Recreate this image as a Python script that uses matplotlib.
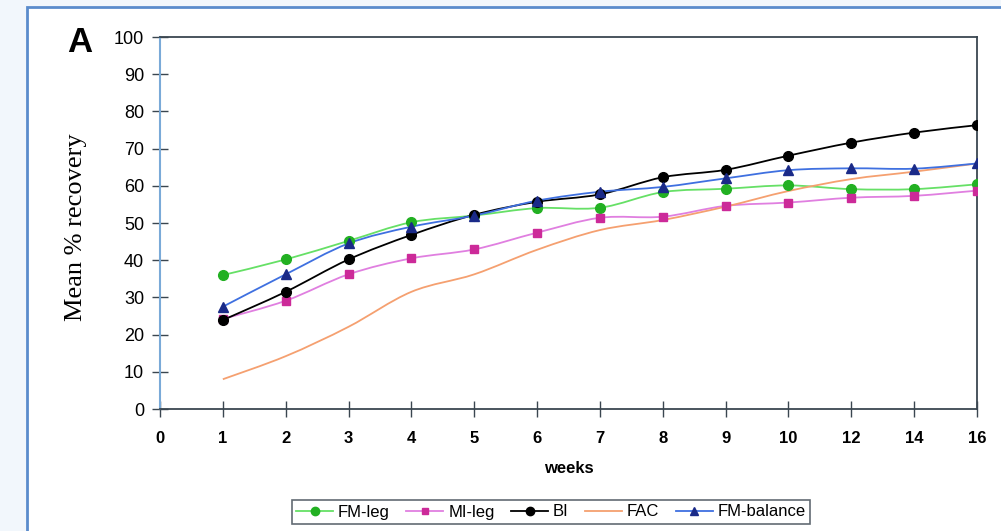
import numpy as np
import matplotlib
matplotlib.use("Agg")
import matplotlib.pyplot as plt
from matplotlib.path import Path
from matplotlib.patches import PathPatch, Rectangle
from matplotlib.lines import Line2D

# x axis is categorical (weeks, unevenly spaced labels)
week_labels = ["0", "1", "2", "3", "4", "5", "6", "7", "8", "9", "10", "12", "14", "16"]
fm_leg = [36.0, 40.2, 45.2, 50.2, 52.0, 54.0, 54.1, 58.3, 59.2, 60.1, 59.1, 59.1, 60.4]
mi_leg = [24.2, 29.1, 36.2, 40.5, 42.9, 47.4, 51.4, 51.7, 54.6, 55.5, 56.8, 57.3, 58.7]
bi = [23.9, 31.5, 40.2, 46.8, 52.2, 55.7, 57.7, 62.3, 64.3, 68.1, 71.6, 74.3, 76.3]
fac = [8.0, 14.2, 22.1, 31.5, 36.2, 42.8, 48.1, 50.8, 54.4, 58.6, 61.8, 63.8, 66.0]
fm_balance = [27.5, 36.2, 44.5, 49.0, 52.0, 56.0, 58.4, 59.7, 62.0, 64.2, 64.7, 64.6, 66.0]


def smooth_path(x, y):
    # excel-style smoothed line (bezier through the points)
    pts = np.column_stack([x, y]).astype(float)
    n = len(pts)
    verts = [pts[0]]
    codes = [Path.MOVETO]
    for i in range(n - 1):
        p0 = pts[max(i - 1, 0)]
        p1 = pts[i]
        p2 = pts[i + 1]
        p3 = pts[min(i + 2, n - 1)]
        verts += [p1 + (p2 - p0) / 6, p2 - (p3 - p1) / 6, p2]
        codes += [Path.CURVE4] * 3
    return Path(verts, codes)


fig = plt.figure(figsize=(10.01, 5.31), dpi=100, facecolor="#f2f7fc")
# white panel with blue frame, behind everything
fig.patches.append(Rectangle((27 / 1001, -0.02), 1.0, 1 - 7 / 531 + 0.02,
                             transform=fig.transFigure, facecolor="white",
                             edgecolor="#5b8ccc", linewidth=2, zorder=-10))

ax = fig.add_axes([160 / 1001, 1 - 409 / 531, 817 / 1001, 372 / 531])
ax.set_facecolor("white")

x = np.arange(1, len(week_labels))
series = [
    (fm_leg, "FM-leg", "#66e066", "o", "#22b022", 7),
    (mi_leg, "MI-leg", "#e07fe0", "s", "#cc2a99", 6),
    (bi, "BI", "black", "o", "black", 7),
    (fac, "FAC", "#f5a070", None, None, 0),
    (fm_balance, "FM-balance", "#3f70e0", "^", "#1a2a88", 7),
]
handles = []
for vals, name, lc, mk, mc, ms in series:
    ax.add_patch(PathPatch(smooth_path(x, vals), fill=False, edgecolor=lc, lw=1.3, zorder=2))
    if mk:
        ax.plot(x, vals, ls="none", marker=mk, ms=ms, color=mc, zorder=3)
    handles.append(Line2D([], [], color=lc, lw=1.3, marker=mk, ms=ms - 1 if ms else 0,
                          markerfacecolor=mc, markeredgecolor=mc))

ax.set_xlim(0, len(week_labels) - 1)
ax.set_ylim(0, 100)
ax.set_xticks(range(len(week_labels)))
ax.set_xticklabels(week_labels)
ax.set_yticks(range(0, 101, 10))
for s in ["top", "right", "bottom"]:
    ax.spines[s].set_color("#3a4650")
    ax.spines[s].set_linewidth(1.3)
ax.spines["left"].set_color("#7aaad8")
ax.spines["left"].set_linewidth(1.5)
ax.tick_params(direction="inout", length=11, width=1, color="#3a4650")
ax.tick_params(axis="x", pad=10)
ax.tick_params(axis="y", pad=6)
for lab in ax.get_xticklabels():
    lab.set_fontfamily("Liberation Sans")
    lab.set_fontweight("bold")
    lab.set_fontsize(12)
for lab in ax.get_yticklabels():
    lab.set_fontfamily("Liberation Sans")
    lab.set_fontsize(13)

ax.set_xlabel("weeks", fontfamily="Liberation Sans", fontweight="bold", fontsize=12, labelpad=11)
ax.set_ylabel("Mean % recovery", fontfamily="Liberation Serif", fontsize=19)
ax.yaxis.set_label_coords(-0.089, 0.489)
fig.text(67 / 1001, 1 - 42 / 531, "A", fontfamily="Liberation Sans", fontweight="bold",
         fontsize=25, va="center", ha="left")

leg = fig.legend(handles, [s[1] for s in series], loc="center", ncol=5,
                 bbox_to_anchor=(551 / 1001, 1 - 512 / 531),
                 prop={"family": "Liberation Sans", "size": 12},
                 frameon=True, fancybox=False, edgecolor="#3a4650",
                 handlelength=2.2, handletextpad=0.3, columnspacing=1.0,
                 borderpad=0.25)
leg.get_frame().set_linewidth(1.2)

fig.savefig("out.png", dpi=100, facecolor=fig.get_facecolor())
